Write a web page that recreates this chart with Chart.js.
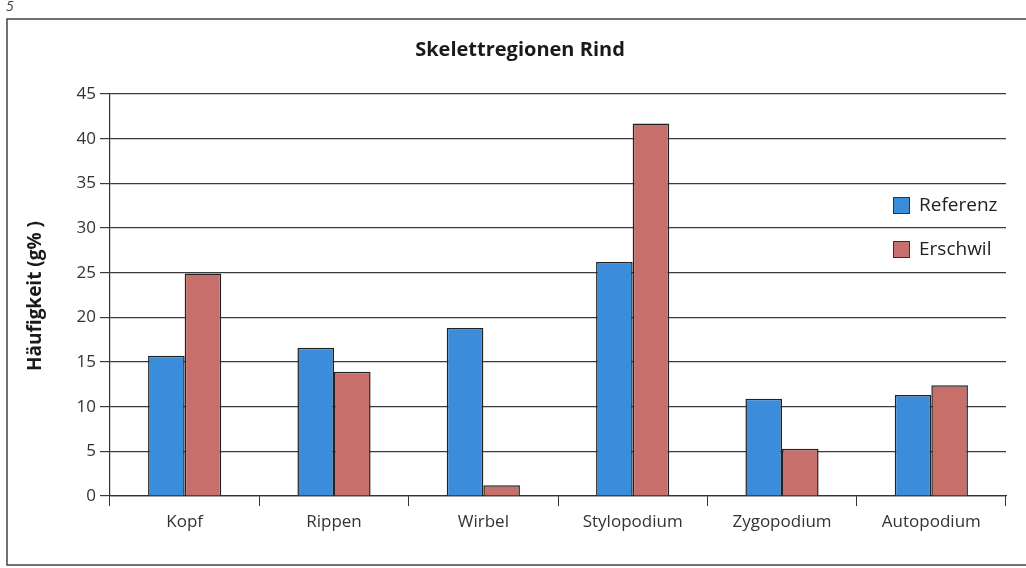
<!DOCTYPE html>
<html>
<head>
<meta charset="utf-8">
<script src="https://cdn.jsdelivr.net/npm/chart.js@4"></script>
<style>
  html, body { margin: 0; padding: 0; background: #fff; }
  #wrap { width: 1026px; height: 568px; position: relative; }
</style>
</head>
<body>
<div id="wrap"><canvas id="chart" width="1026" height="568"></canvas></div>
<script>
// daten
const kategorien = ['Kopf', 'Rippen', 'Wirbel', 'Stylopodium', 'Zygopodium', 'Autopodium'];
const referenz = [15.7, 16.6, 18.8, 26.2, 10.9, 11.3];
const erschwil = [24.9, 13.9, 1.2, 41.7, 5.3, 12.4];
const serienNamen = ['Referenz', 'Erschwil'];

const schrift = "'Open Sans', 'Noto Sans', sans-serif";

// rahmen, titel, achsentitel und legende von hand zeichnen
const extras = {
  id: 'extras',
  afterDraw(chart) {
    const ctx = chart.ctx;
    ctx.save();

    // seitenzahl
    ctx.fillStyle = '#444';
    ctx.font = "italic 14px " + schrift;
    ctx.textAlign = 'left';
    ctx.textBaseline = 'top';
    ctx.fillText('5', 6, 0);

    // rahmen
    ctx.strokeStyle = '#444';
    ctx.lineWidth = 1.5;
    ctx.strokeRect(7, 19, 1030, 546);

    // titel
    ctx.fillStyle = '#1a1a1a';
    ctx.font = "bold 20px " + schrift;
    ctx.textAlign = 'center';
    ctx.textBaseline = 'middle';
    ctx.fillText('Skelettregionen Rind', 520, 50);

    // y-achsentitel
    ctx.save();
    ctx.translate(36, 296);
    ctx.rotate(-Math.PI / 2);
    ctx.font = "bold 19px " + schrift;
    ctx.fillText('Häufigkeit (g% )', 0, 0);
    ctx.restore();

    // legende
    const ys = [206, 250];
    chart.data.datasets.forEach((ds, i) => {
      ctx.fillStyle = ds.backgroundColor;
      ctx.fillRect(893, ys[i] - 9, 17, 17);
      ctx.strokeStyle = '#333';
      ctx.lineWidth = 1;
      ctx.strokeRect(893.5, ys[i] - 8.5, 16, 16);
      ctx.fillStyle = '#222';
      ctx.font = "19px " + schrift;
      ctx.textAlign = 'left';
      ctx.fillText(ds.label, 919, ys[i]);
    });
    ctx.restore();
  }
};

new Chart(document.getElementById('chart'), {
  type: 'bar',
  data: {
    labels: kategorien,
    datasets: [
      { label: serienNamen[0], data: referenz, backgroundColor: '#3b8ddc', borderColor: '#222', borderWidth: 1.5 },
      { label: serienNamen[1], data: erschwil, backgroundColor: '#c76f6a', borderColor: '#222', borderWidth: 1.5 }
    ]
  },
  options: {
    responsive: false,
    animation: false,
    layout: { padding: { top: 94, right: 20, left: 0, bottom: 0 } },
    categoryPercentage: 0.49,
    barPercentage: 1.0,
    plugins: {
      legend: { display: false },
      title: { display: false },
      tooltip: { enabled: false }
    },
    scales: {
      x: {
        afterFit(scale) { scale.height = 72; },
        grid: { drawOnChartArea: false, drawTicks: true, tickLength: 10, color: '#333', offset: true },
        border: { display: true, color: '#333', width: 1.2 },
        ticks: { color: '#333', font: { family: schrift, size: 17 }, padding: 6 }
      },
      y: {
        min: 0,
        max: 45,
        afterFit(scale) { scale.width = 110; },
        grid: { color: '#3a3a3a', lineWidth: 1.2, drawTicks: true, tickLength: 10 },
        border: { display: true, color: '#333', width: 1.2 },
        ticks: { stepSize: 5, color: '#333', font: { family: schrift, size: 17 }, padding: 4 }
      }
    }
  },
  plugins: [extras]
});
</script>
</body>
</html>
